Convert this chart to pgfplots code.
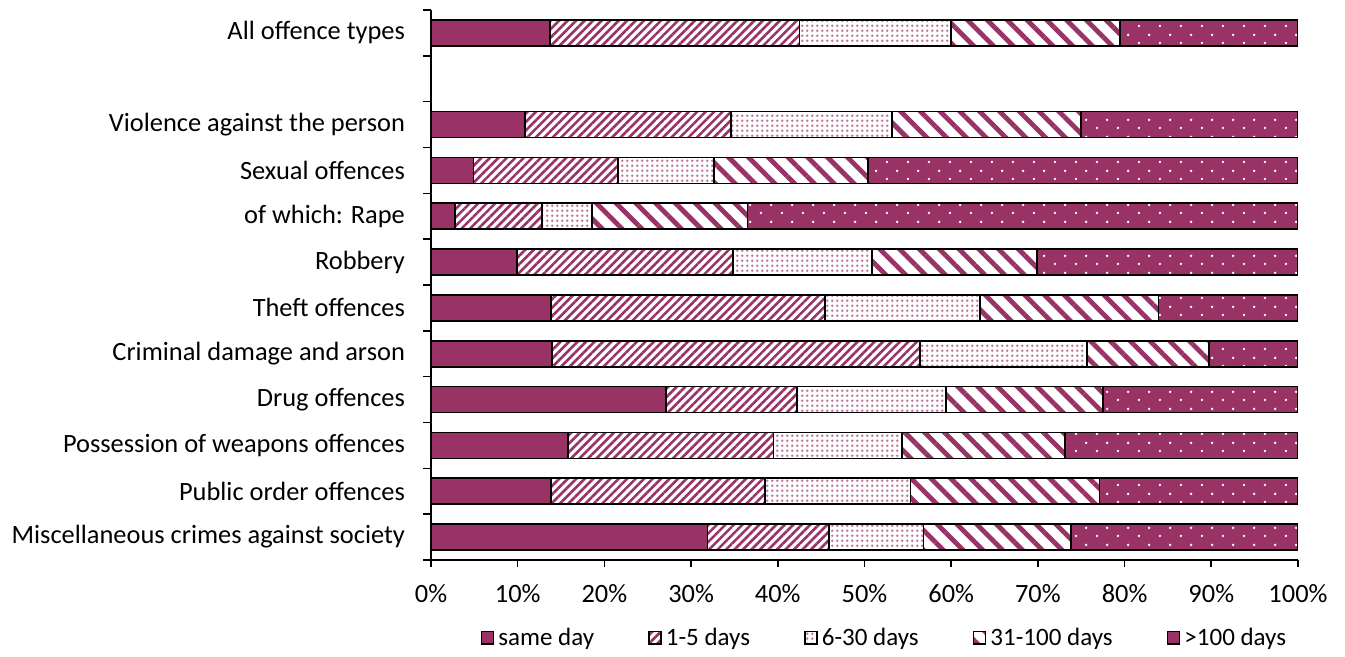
\documentclass[border=0pt]{standalone}
\usepackage{fontspec}
\setmainfont{Carlito}
\usepackage{pgfplots}
\pgfplotsset{compat=1.18}
\usepackage{pgfplotstable}
\usetikzlibrary{patterns,patterns.meta}
\definecolor{plum}{RGB}{153,51,102}

\pgfdeclarepattern{name=bigdots, type=uncolored, bottom left={\pgfpointorigin}, top right={\pgfpoint{10.5pt}{8.3pt}}, tile size={\pgfpoint{10.5pt}{8.3pt}}, code={\pgfpathcircle{\pgfpoint{2.6pt}{2.1pt}}{0.7pt}\pgfpathcircle{\pgfpoint{7.9pt}{6.2pt}}{0.7pt}\pgfusepath{fill}}}
\pgfdeclarepattern{name=smalldots, type=uncolored, bottom left={\pgfpointorigin}, top right={\pgfpoint{2.6pt}{2.6pt}}, tile size={\pgfpoint{2.6pt}{2.6pt}}, code={\pgfpathcircle{\pgfpoint{1.3pt}{1.3pt}}{0.8pt}\pgfusepath{fill}}}

\pgfplotstableread{
y same d15 d630 d31 d100
11 13.7 28.8 17.5 19.5 20.5
9 10.8 23.8 18.6 21.8 25.0
8 4.9 16.7 11.0 17.8 49.6
7 2.8 10.0 5.8 17.9 63.5
6 9.9 24.9 16.1 19.0 30.1
5 13.8 31.6 17.9 20.6 16.1
4 14.0 42.4 19.3 14.0 10.3
3 27.1 15.1 17.2 18.1 22.5
2 15.8 23.7 14.8 18.8 26.9
1 13.8 24.7 16.8 21.8 22.9
0 31.9 14.0 10.9 17.0 26.2
}\data

\begin{document}
\begin{tikzpicture}
\path (-215.5pt,-47.5pt) rectangle (457pt,280pt);
\begin{axis}[
  at={(0,0)}, anchor=south west,
  width=433.5pt, height=275pt, scale only axis,
  xbar stacked, bar width=13pt,
  xmin=0, xmax=100, ymin=-0.5, ymax=11.5,
  axis lines*=left,
  axis line style={line width=0.8pt},
  xtick={0,10,...,100},
  xticklabel={\pgfmathprintnumber{\tick}\%},
  tick align=outside, major tick length=3.5pt,
  xtick style={line width=0.8pt, black},
  ytick={0,...,11},
  yticklabels={Miscellaneous crimes against society, Public order offences, Possession of weapons offences, Drug offences, Criminal damage and arson, Theft offences, Robbery, of which: Rape, Sexual offences, Violence against the person, {}, All offence types},
  ytick style={draw=none},
  extra y ticks={-0.5,0.5,...,11.5},
  extra y tick labels={},
  extra y tick style={ytick style={draw=black, line width=0.8pt}, major tick length=4pt},
  ticklabel style={font=\fontsize{13.2}{15}\selectfont},
  yticklabel style={xshift=-6pt},
  xticklabel style={yshift=-5pt},
  /pgf/number format/assume math mode=true,
  legend columns=5,
  legend style={draw=none, at={(0.524,-0.1418)}, anchor=center, font=\fontsize{12.5}{14}\selectfont,
    /tikz/every even column/.append style={column sep=25pt}},
  legend image code/.code={\draw[#1] (0pt,-3.2pt) rectangle (6pt,3.2pt);},
  every axis plot/.append style={draw=black, line width=0.9pt},
]
\addplot[fill=plum] table[x=same, y=y] {\data};
\addplot[pattern={Lines[angle=45, distance=3pt, line width=1.3pt]}, pattern color=plum] table[x=d15, y=y] {\data};
\addplot[pattern=smalldots, pattern color=plum!65] table[x=d630, y=y] {\data};
\addplot[pattern={Lines[angle=-45, distance=7pt, line width=2.4pt]}, pattern color=plum] table[x=d31, y=y] {\data};
\addplot[preaction={fill=plum}, pattern=bigdots, pattern color=white] table[x=d100, y=y] {\data};
\legend{same day, 1-5 days, 6-30 days, 31-100 days, >100 days}
\end{axis}
\end{tikzpicture}
\end{document}
